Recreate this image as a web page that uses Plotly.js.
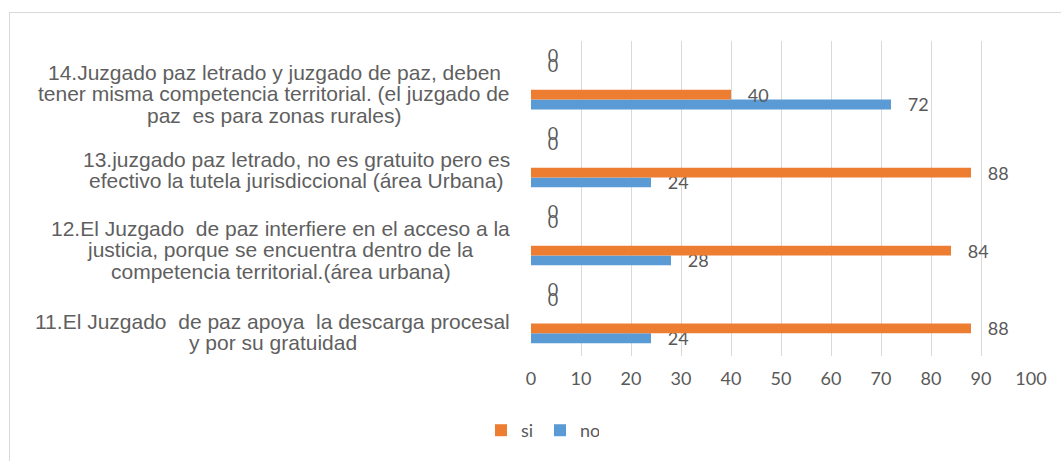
<!DOCTYPE html>
<html>
<head>
<meta charset="utf-8">
<script src="https://cdn.plot.ly/plotly-3.0.1.min.js"></script>
<style>
  html, body { margin: 0; padding: 0; background: #ffffff; overflow: hidden; }
  #chart { width: 1061px; height: 461px; position: absolute; left: 0; top: 0; }
  #frame { position: absolute; left: 9px; top: 12px; width: 1100px; height: 500px;
           border-top: 1px solid #d9d9d9; border-left: 1px solid #d9d9d9; pointer-events: none; }
</style>
</head>
<body>
<div id="chart"></div>
<div id="frame"></div>
<script>
// ---- data ----
const categories = [
  "11.El Juzgado  de paz apoya  la descarga procesal<br>y por su gratuidad",
  "12.El Juzgado  de paz interfiere en el acceso a la<br>justicia, porque se encuentra dentro de la<br>competencia territorial.(área urbana)",
  "13.juzgado paz letrado, no es gratuito pero es<br>efectivo la tutela jurisdiccional (área Urbana)",
  "14.Juzgado paz letrado y juzgado de paz, deben<br>tener misma competencia territorial. (el juzgado de<br>paz  es para zonas rurales)"
];
const noValues = [24, 28, 24, 72];
const siValues = [88, 84, 88, 40];
const serie3Values = [null, null, null, null];
const serie4Values = [null, null, null, null];
const serie5Values = [0, 0, 0, 0];
const serie6Values = [0, 0, 0, 0];
const xTickValues = [0, 10, 20, 30, 40, 50, 60, 70, 80, 90, 100];

// ---- styling ----
const W = 1061, H = 461;
const M = { l: 531, r: 30, t: 41, b: 103 };
const plotW = W - M.l - M.r, plotH = H - M.t - M.b;
const textColor = '#595959';
const numFont = { family: 'Lato, "Open Sans", sans-serif', size: 18, color: textColor };
const catFont = { family: '"Liberation Sans", Arial, sans-serif', size: 21, color: '#5f5f5f' };
const pad = '\u00a0\u00a0\u00a0';

function barTrace(name, values, color, showLegend, rank) {
  return {
    type: 'bar', orientation: 'h', name: name,
    y: categories, x: values,
    marker: { color: color, line: { width: 0 } },
    texttemplate: pad + '%{x}',
    textposition: 'outside', textangle: 0, constraintext: 'none',
    cliponaxis: false,
    outsidetextfont: numFont, textfont: numFont,
    showlegend: showLegend, legendrank: rank,
    hoverinfo: 'skip'
  };
}

const traces = [
  barTrace('no', noValues, '#5B9BD5', true, 2),
  barTrace('si', siValues, '#ED7D31', true, 1),
  barTrace('Serie3', serie3Values, '#A5A5A5', false, 3),
  barTrace('Serie4', serie4Values, '#FFC000', false, 4),
  barTrace('Serie5', serie5Values, '#4472C4', false, 5),
  barTrace('Serie6', serie6Values, '#70AD47', false, 6)
];

// category label annotations (each line centred within its block, block right-aligned)
const ctx = document.createElement('canvas').getContext('2d');
ctx.font = catFont.size + 'px "Liberation Sans"';
const labelRight = 510;      // px, right edge of label block
const labelDrops = [18, 14, 12, 14];  // px, block centre below slot centre
const lineStep = 21.5;       // px between lines
const annotations = [];
categories.forEach(function (cat, ci) {
  const lines = cat.split('<br>').map(function (s) { return s.replace(/  /g, ' \u00a0'); });
  const widest = Math.max.apply(null, lines.map(function (s) { return ctx.measureText(s).width; }));
  const cx = labelRight - widest / 2;
  const n = lines.length;
  lines.forEach(function (ln, k) {
    annotations.push({
      xref: 'paper', yref: 'y',
      x: (cx - M.l) / plotW, y: cat,
      xanchor: 'center', yanchor: 'middle',
      yshift: -(labelDrops[ci] + (k - (n - 1) / 2) * lineStep),
      text: ln, showarrow: false, font: catFont
    });
  });
});

const layout = {
  width: W, height: H,
  margin: M,
  paper_bgcolor: '#ffffff', plot_bgcolor: '#ffffff',
  barmode: 'group', bargap: 0.245, bargroupgap: 0,
  showlegend: true,
  legend: {
    orientation: 'h', x: (540 - M.l) / plotW, xanchor: 'center',
    y: (M.t + plotH - 433) / plotH, yanchor: 'middle',
    font: numFont, itemwidth: 30, traceorder: 'normal',
    entrywidth: 14, entrywidthmode: 'pixels'
  },
  xaxis: {
    range: [0, 100], tickvals: xTickValues, ticktext: xTickValues.map(String),
    showgrid: true, gridcolor: '#D9D9D9', gridwidth: 1,
    zeroline: false, showline: false, ticks: '',
    tickfont: numFont, ticklabelstandoff: 10, fixedrange: true
  },
  yaxis: {
    type: 'category', categoryorder: 'array', categoryarray: categories,
    showticklabels: false, showgrid: false, zeroline: false, showline: false,
    ticks: '', fixedrange: true
  },
  annotations: annotations
};

Plotly.newPlot('chart', traces, layout, { displayModeBar: false, staticPlot: true });
</script>
</body>
</html>
